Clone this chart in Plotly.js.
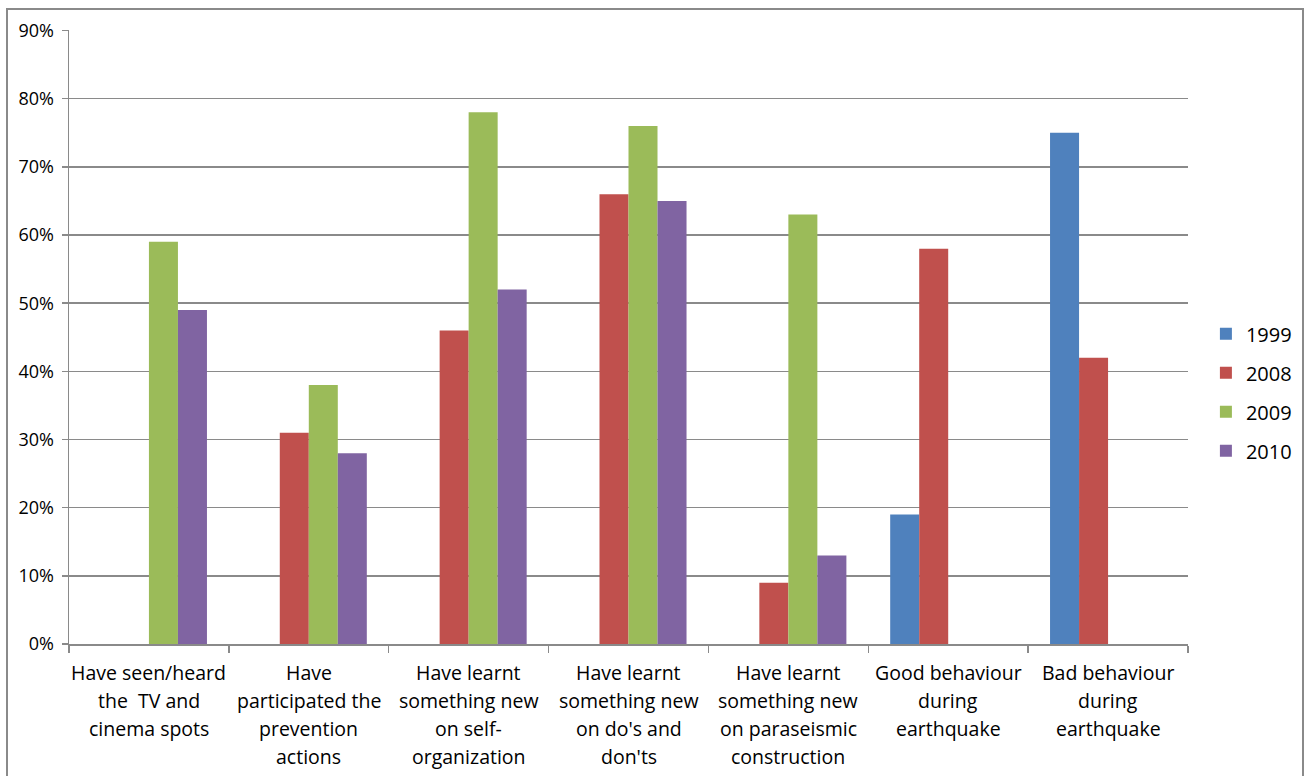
<!DOCTYPE html>
<html>
<head>
<meta charset="utf-8">
<script src="https://cdn.plot.ly/plotly-3.0.1.min.js"></script>
<style>
  html, body { margin: 0; padding: 0; background: #fff; }
  #wrap { position: relative; width: 1309px; height: 776px; overflow: hidden; }
  #chart { width: 1309px; height: 776px; }
  #frame { position: absolute; left: 6px; top: 8px; width: 1298px; height: 800px;
           border: 2px solid #8a8a8a; box-sizing: border-box; pointer-events: none; }
</style>
</head>
<body>
<div id="wrap">
  <div id="chart"></div>
  <div id="frame"></div>
</div>
<script>
const categories = [
  "Have seen/heard<br>the  TV and<br>cinema spots",
  "Have<br>participated the<br>prevention<br>actions",
  "Have learnt<br>something new<br>on self-<br>organization",
  "Have learnt<br>something new<br>on do's and<br>don'ts",
  "Have learnt<br>something new<br>on paraseismic<br>construction",
  "Good behaviour<br>during<br>earthquake",
  "Bad behaviour<br>during<br>earthquake"
];
const seriesNames = ["1999", "2008", "2009", "2010"];
const values1999 = [null, null, null, null, null, 19, 75];
const values2008 = [null, 31, 46, 66, 9, 58, 42];
const values2009 = [59, 38, 78, 76, 63, null, null];
const values2010 = [49, 28, 52, 65, 13, null, null];
const yTickValues = [0, 10, 20, 30, 40, 50, 60, 70, 80, 90];

const colors = ["#4F81BD", "#C0504D", "#9BBB59", "#8064A2"];
const allValues = [values1999, values2008, values2009, values2010];
const catKeys = categories.map((c, i) => "c" + i);

const traces = allValues.map((vals, k) => ({
  type: "bar",
  name: seriesNames[k],
  x: catKeys,
  y: vals,
  marker: { color: colors[k], line: { width: 0 } },
  legendgroup: "g" + k,
  hoverinfo: "name+y"
}));

const annotations = [];
categories.forEach((lab, i) => {
  lab.split("<br>").forEach((line, j) => {
    annotations.push({
      x: catKeys[i], xref: "x",
      y: 0, yref: "paper",
      yanchor: "middle", xanchor: "center",
      yshift: -28 - 28 * j,
      text: line,
      showarrow: false,
      font: { family: "Open Sans, sans-serif", size: 19.5, color: "#000" }
    });
  });
});

const layout = {
  width: 1309, height: 776,
  margin: { l: 69, r: 116, t: 30, b: 132, pad: 0 },
  paper_bgcolor: "#fff", plot_bgcolor: "#fff",
  barmode: "group",
  bargap: 0.274,
  bargroupgap: 0,
  showlegend: true,
  font: { family: "Open Sans, sans-serif", color: "#000" },
  xaxis: {
    type: "category",
    showticklabels: false,
    ticks: "outside", ticklen: 7, tickwidth: 1.5, tickcolor: "#8a8a8a",
    tickson: "boundaries",
    showline: true, linecolor: "#8a8a8a", linewidth: 1.5,
    showgrid: false, zeroline: false,
    fixedrange: true
  },
  yaxis: {
    range: [0, 90.08],
    tickvals: yTickValues,
    ticktext: yTickValues.map(v => v + "%"),
    ticks: "outside", ticklen: 6, tickwidth: 1.5, tickcolor: "#8a8a8a",
    showline: true, linecolor: "#8a8a8a", linewidth: 1.5,
    showgrid: true, gridcolor: "#8a8a8a", gridwidth: 1.5,
    zeroline: false,
    tickfont: { family: "Open Sans, sans-serif", size: 18, color: "#000" },
    ticklabelstandoff: 4,
    fixedrange: true
  },
  legend: {
    x: 1.016, xanchor: "left",
    y: 0.41, yanchor: "middle",
    traceorder: "grouped",
    tracegroupgap: 10,
    font: { family: "Open Sans, sans-serif", size: 20, color: "#000" },
    bgcolor: "rgba(0,0,0,0)",
    itemwidth: 30
  },
  annotations: annotations
};

Plotly.newPlot("chart", traces, layout, { displayModeBar: false, staticPlot: true });
</script>
</body>
</html>
